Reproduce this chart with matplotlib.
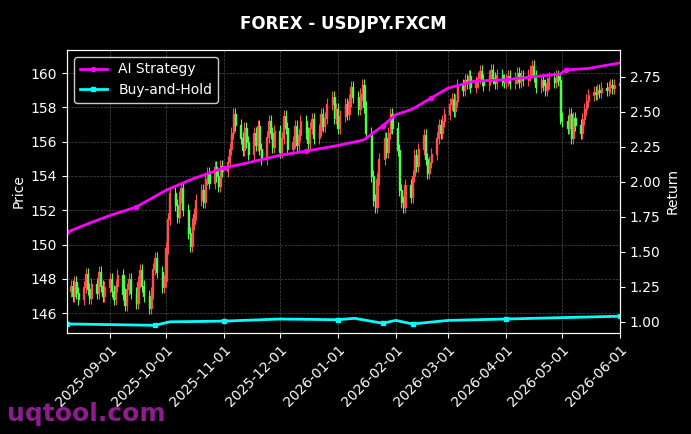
import matplotlib
matplotlib.use("Agg")
import matplotlib.pyplot as plt
import matplotlib.dates as mdates
import pandas as pd
import numpy as np

months = ["2025-08-11", "2025-09-01", "2025-10-01", "2025-11-01", "2025-12-01", "2026-01-01",
          "2026-02-01", "2026-03-01", "2026-04-01", "2026-05-01", "2026-06-01"]
closes_by_month = [
 [147.6,147.0,147.8,147.2,146.8,147.5,148.3,147.4,146.9,147.7,147.2,148.4,147.6,147.0,147.5],
 [148.0,147.3,146.8,147.6,148.2,147.1,146.5,147.4,148.0,147.2,146.6,147.8,148.5,147.6,147.0,146.3,147.2,148.6,149.2,148.4,147.5,147.9],
 [149.8,151.5,153.0,152.3,151.6,152.8,153.3,152.0,150.7,149.9,151.2,151.8,152.6,153.2,152.5,153.8,154.2,153.6,154.5,154.0,153.4,154.6,154.3],
 [154.8,155.6,156.5,157.6,157.0,156.2,155.5,156.8,156.0,155.3,156.5,155.8,156.9,155.6,155.0,156.3,157.2,156.5,155.7,156.6],
 [155.4,156.2,157.5,156.8,155.6,156.0,156.9,155.8,156.4,157.2,156.5,155.9,156.8,157.3,156.2,156.7,157.6,156.9,157.4,158.2,158.6,157.4,157.9],
 [156.8,157.5,158.2,157.6,158.4,159.2,158.6,157.9,158.8,159.3,158.0,156.5,154.0,152.6,152.2,153.8,155.0,156.2,155.4,156.5,157.6,156.8],
 [155.5,153.2,152.5,152.2,153.5,152.8,154.0,155.2,154.6,155.6,156.4,155.0,154.2,154.8,155.3,156.2,157.0,156.5,157.2,157.6],
 [158.2,158.5,157.8,158.4,159.3,159.0,159.6,159.4,159.8,159.2,159.5,159.7,160.1,159.6,159.3,159.8,160.2,159.7,159.4,159.9,159.6,159.5],
 [159.6,159.8,159.4,159.7,160.0,159.5,159.8,159.6,159.9,160.1,160.4,159.8,159.2,159.6,159.3,159.0,159.4,159.7,159.5,159.8,159.6,157.4],
 [157.2,156.8,157.6,156.2,157.4,157.0,156.5,157.3,157.9,158.4,158.7,158.9,158.8,159.0,158.9,159.1,159.0,159.2,159.3,159.1,159.3],
 [159.4],
]
ai_dates = ["2025-08-09","2025-08-20","2025-09-01","2025-09-15","2025-10-01","2025-10-15","2025-11-01",
            "2025-11-15","2025-12-01","2025-12-15","2026-01-01","2026-01-15","2026-01-25","2026-02-01",
            "2026-02-10","2026-02-20","2026-03-01","2026-03-15","2026-04-01","2026-04-15","2026-04-30",
            "2026-05-03","2026-05-15","2026-06-01"]
ai_ret = [1.64,1.70,1.76,1.82,1.94,2.02,2.10,2.14,2.19,2.22,2.26,2.30,2.40,2.48,2.52,2.60,2.67,2.72,
          2.73,2.75,2.77,2.80,2.81,2.85]
bh_dates = ["2025-08-09","2025-09-01","2025-09-25","2025-10-03","2025-11-01","2025-12-01","2026-01-01",
            "2026-01-10","2026-01-25","2026-02-01","2026-02-10","2026-03-01","2026-04-01","2026-05-01","2026-06-01"]
bh_ret = [0.985,0.98,0.975,1.0,1.005,1.02,1.015,1.025,0.99,1.01,0.985,1.01,1.02,1.03,1.04]

dates, closes = [], []
for m, cl in zip(months, closes_by_month):
    d = pd.bdate_range(m, periods=len(cl))
    dates.extend(d); closes.extend(cl)
dates = pd.DatetimeIndex(dates)
closes = np.array(closes)
opens = np.concatenate([[closes[0] - 0.3], closes[:-1]])

fig, ax = plt.subplots(figsize=(6.91, 4.34), dpi=100)
fig.patch.set_facecolor("black")
ax.set_facecolor("black")
x = mdates.date2num(dates)
for xi, o, c in zip(x, opens, closes):
    col = "#ff4d4d" if c >= o else "#4dff4d"
    lo, hi = min(o, c), max(o, c)
    ax.vlines(xi, lo - 0.35, hi + 0.35, color=col, lw=0.8)
    ax.bar(xi, max(hi - lo, 0.05), bottom=lo, width=0.6, color=col, edgecolor=col)
ax.set_ylabel("Price", color="white")
ax.set_ylim(144.85, 161.35)
ax.set_xlim(mdates.date2num(pd.Timestamp("2025-08-09")), mdates.date2num(pd.Timestamp("2026-06-01")))
ax.grid(True, color="gray", ls="--", lw=0.5, alpha=0.6)

ax2 = ax.twinx()
ax2.plot(pd.to_datetime(ai_dates), ai_ret, color="#ff00ff", lw=2, marker="o", ms=3, markevery=3, label="AI Strategy")
ax2.plot(pd.to_datetime(bh_dates), bh_ret, color="#00ffff", lw=2, marker="s", ms=3, markevery=2, label="Buy-and-Hold")
ax2.set_ylim(0.921, 2.943)
ax2.set_ylabel("Return", color="white")
leg = ax2.legend(loc="upper left", facecolor="black", edgecolor="white", labelcolor="white")

for a in (ax, ax2):
    a.tick_params(colors="white")
    for s in a.spines.values():
        s.set_color("white")
ax.xaxis.set_major_locator(mdates.MonthLocator())
ax.xaxis.set_major_formatter(mdates.DateFormatter("%Y-%m-%d"))
plt.setp(ax.get_xticklabels(), rotation=45, ha="right", rotation_mode="anchor")
ax.set_title("FOREX - USDJPY.FXCM", color="white", fontweight="bold", pad=15)
fig.text(0.01, 0.03, "uqtool.com", color="#a020a0", fontsize=18, fontweight="bold", alpha=0.9)
fig.subplots_adjust(left=0.097, right=0.897, top=0.885, bottom=0.233)
fig.savefig("out.png", facecolor="black")
